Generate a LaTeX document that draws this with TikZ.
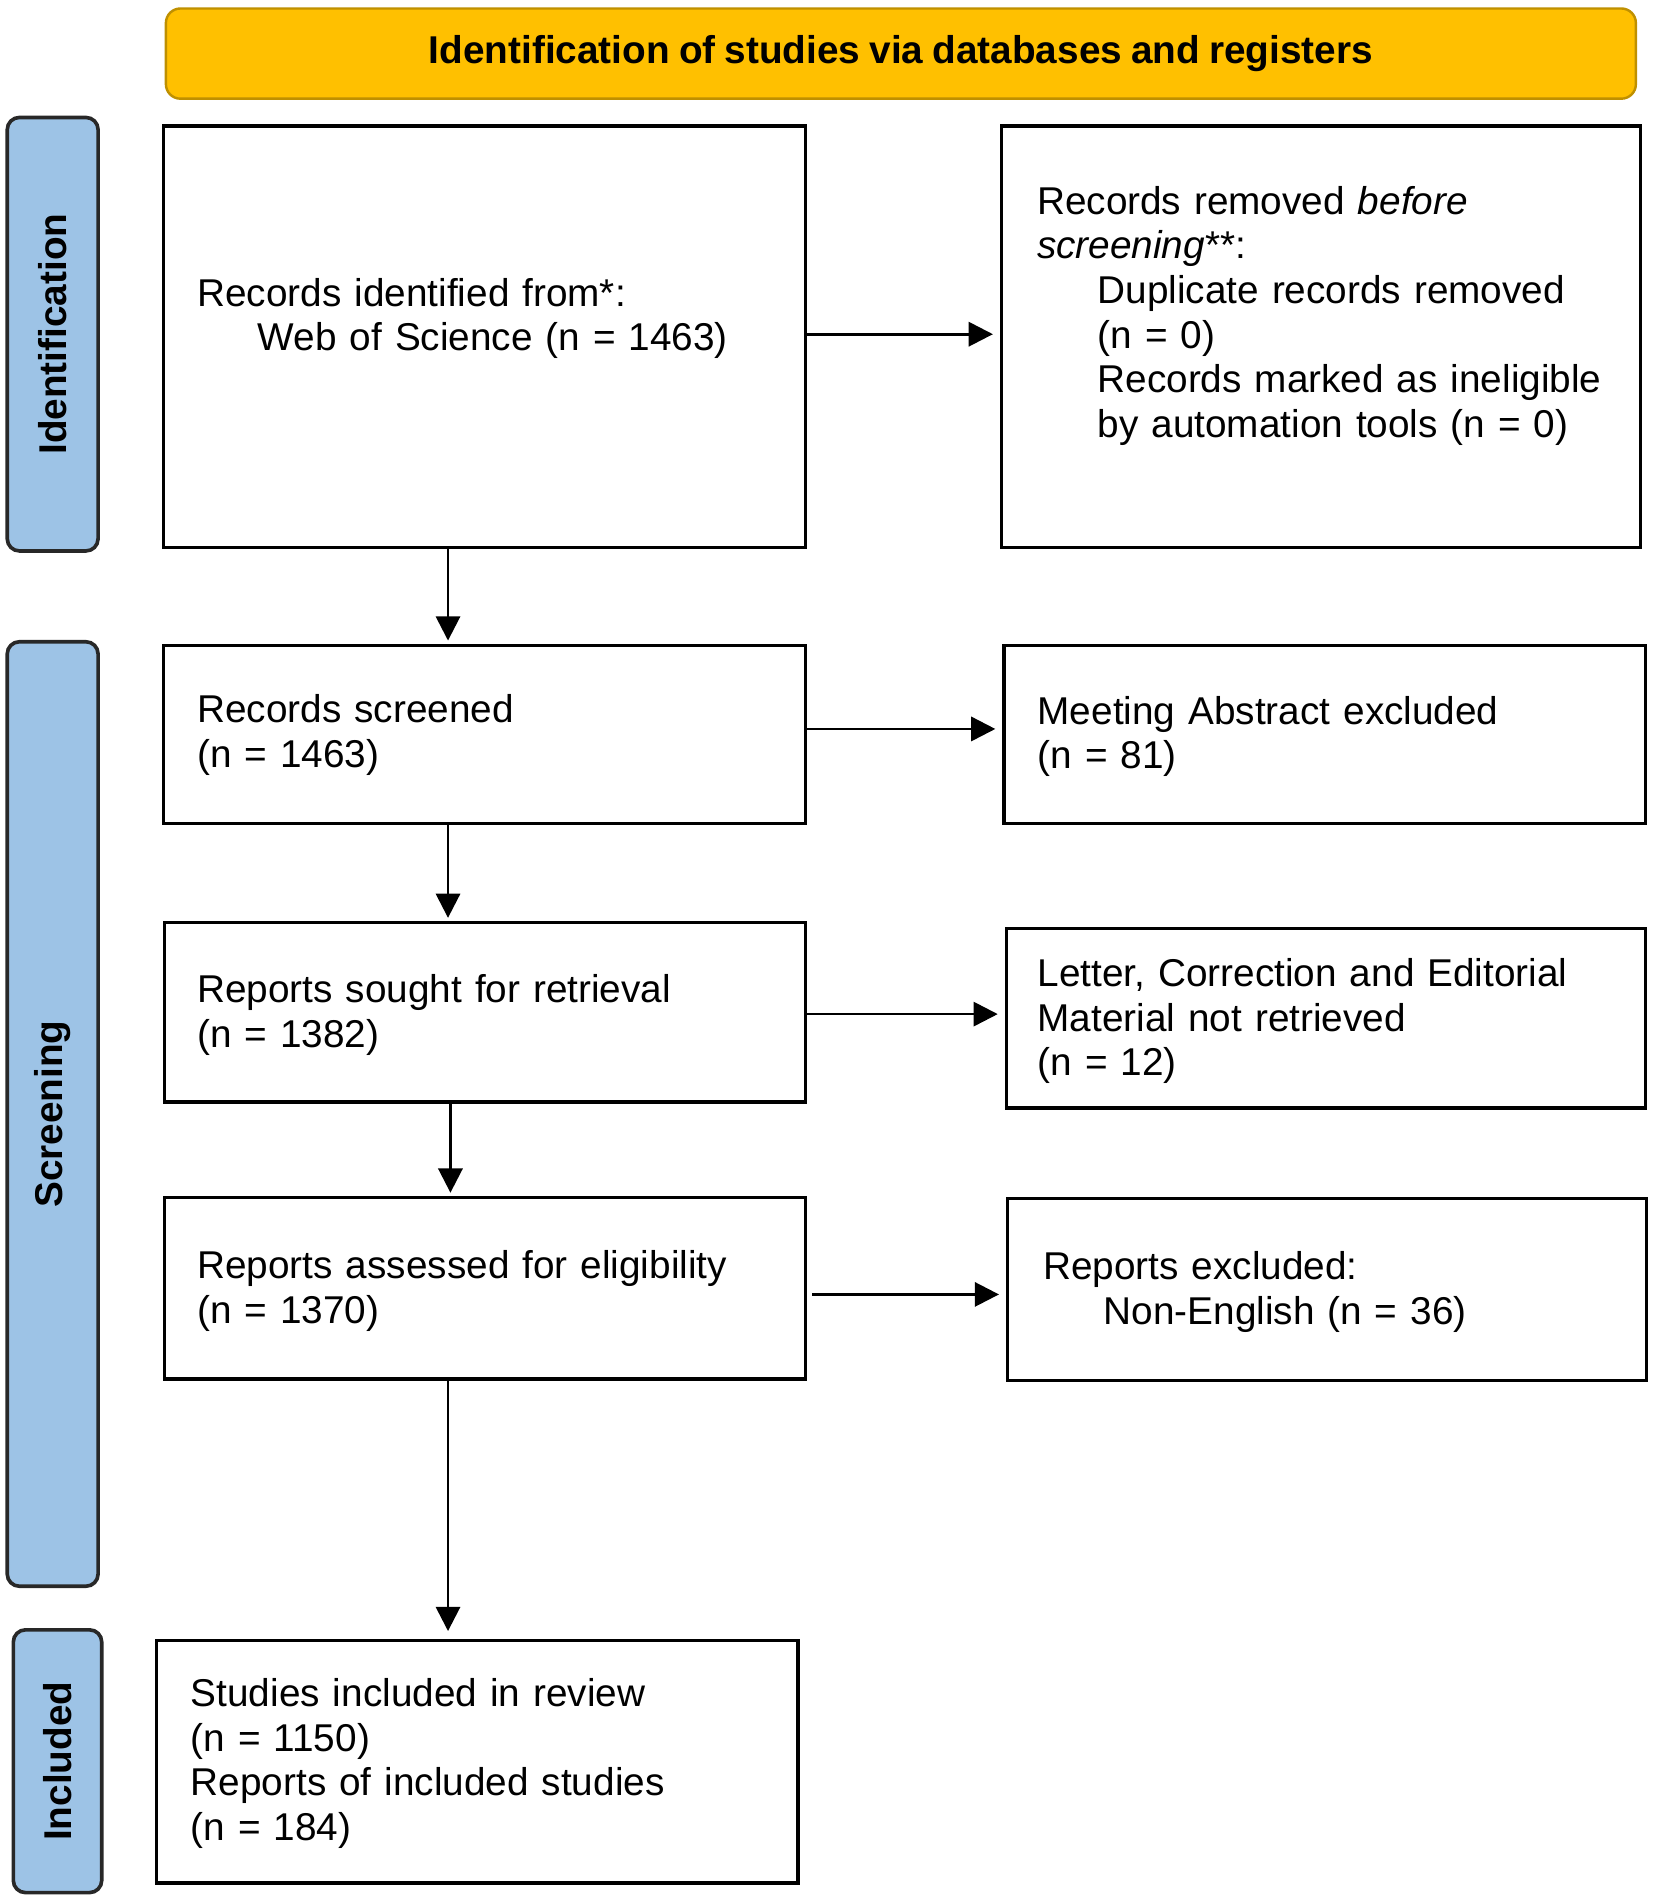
\documentclass[tikz,border=0pt]{standalone}
\usepackage{fontspec}
\setmainfont{Liberation Sans}[WordSpace=0.85]
\usetikzlibrary{arrows.meta}
\definecolor{hdrfill}{RGB}{255,192,0}
\definecolor{hdrdraw}{RGB}{191,144,0}
\definecolor{sidefill}{RGB}{157,195,230}
\definecolor{sidedraw}{RGB}{40,40,40}
\newcommand{\ind}{\hspace*{25pt}}
\begin{document}
\begin{tikzpicture}[x=0.5pt,y=-0.5pt,
  every node/.style={inner sep=0pt, outer sep=0pt},
  box/.style={draw=black, line width=1.4pt, fill=white},
  hdr/.style={draw=hdrdraw, fill=hdrfill, line width=1pt, rounded corners=6pt,
    font=\fontsize{16pt}{18.4pt}\selectfont\bfseries},
  side/.style={draw=sidedraw, fill=sidefill, line width=1.5pt, rounded corners=5pt},
  sidetxt/.style={rotate=90, font=\fontsize{16pt}{18.4pt}\selectfont\bfseries},
  txt/.style={anchor=base west, align=left, text width=255pt,
    font=\fontsize{16pt}{18.4pt}\selectfont},
  arr/.style={line width=1.1pt, -{Triangle[length=10pt,width=10pt]}, shorten >=3.5pt},
  arrv/.style={line width=1.1pt, -{Triangle[length=10pt,width=10pt]}, shorten >=2pt},
]
\useasboundingbox (0,0) rectangle (1366,1565);

% header
\node[hdr, minimum width=607pt, minimum height=37.25pt] (hdr) at (744,44.25)
  {Identification of studies via databases and registers};

% side labels
\node[side, minimum width=37.5pt, minimum height=179pt] (idl) at (43.5,276) {};
\node[sidetxt] (idt) at (idl.center) {Identification};
\node[side, minimum width=37.5pt, minimum height=390pt] (scl) at (43.5,920) {};
\node[sidetxt] (sct) at (scl.center) {Screening};
\node[side, minimum width=36.5pt, minimum height=108.5pt] (icl) at (47.5,1454.5) {};
\node[sidetxt] (ict) at (icl.center) {Included};

% boxes
\node[box, minimum width=265pt, minimum height=174pt] (b1) at (400,278) {};
\node[box, minimum width=264pt, minimum height=174pt] (b2) at (1091,278) {};
\node[box, minimum width=265pt, minimum height=73.5pt] (b3) at (400,606.5) {};
\node[box, minimum width=265pt, minimum height=73.5pt] (b4) at (1094,606.5) {};
\node[box, minimum width=264.5pt, minimum height=74pt] (b5) at (400.5,836) {};
\node[box, minimum width=264pt, minimum height=74pt] (b6) at (1095,841) {};
\node[box, minimum width=264.5pt, minimum height=75pt] (b7) at (400.5,1064) {};
\node[box, minimum width=264pt, minimum height=75pt] (b8) at (1096,1065) {};
\node[box, minimum width=265pt, minimum height=100pt] (b9) at (394,1455) {};

% texts
\node[txt] (t1) at (163,253) {Records identified from*:\\\ind Web of Science (n = 1463)};
\node[txt] (t2) at (856.5,177) {Records removed \textit{before}\\\textit{screening}**:\\\ind Duplicate records removed\\\ind (n = 0)\\\ind Records marked as ineligible\\\ind by automation tools (n = 0)};
\node[txt] (t3) at (163,597) {Records screened\\(n = 1463)};
\node[txt] (t4) at (857,598) {Meeting Abstract excluded\\(n = 81)};
\node[txt] (t5) at (163,828) {Reports sought for retrieval\\(n = 1382)};
\node[txt] (t6) at (857,815) {Letter, Correction and Editorial\\Material not retrieved\\(n = 12)};
\node[txt] (t7) at (163,1056) {Reports assessed for eligibility\\(n = 1370)};
\node[txt] (t8) at (861.5,1057) {Reports excluded:\\\ind Non-English (n = 36)};
\node[txt] (t9) at (157.6,1409.6) {Studies included in review\\(n = 1150)\\Reports of included studies\\(n = 184)};

% connectors
\coordinate (col) at (370,0);
\draw[arrv] (b1.south -| col) -- (b3.north -| col);
\draw[arrv] (b3.south -| col) -- (b5.north -| col);
\draw[arrv] ([xshift=1pt]b5.south -| col) -- ([xshift=1pt]b7.north -| col);
\draw[arrv, shorten >=4pt] (b7.south -| col) -- (b9.north -| col);

\draw[arr] ([yshift=1pt]b1.east) -- ([yshift=1pt]b1.east -| b2.west);
\draw[arr] ([yshift=2.25pt]b3.east) -- ([yshift=2.25pt]b3.east -| b4.west);
\draw[arr] ([yshift=-0.75pt]b5.east) -- ([yshift=-0.75pt]b5.east -| b6.west);
\draw[arr] ([xshift=3pt,yshift=-2.5pt]b7.east) -- ([yshift=-2.5pt]b7.east -| b8.west);
\end{tikzpicture}
\end{document}
